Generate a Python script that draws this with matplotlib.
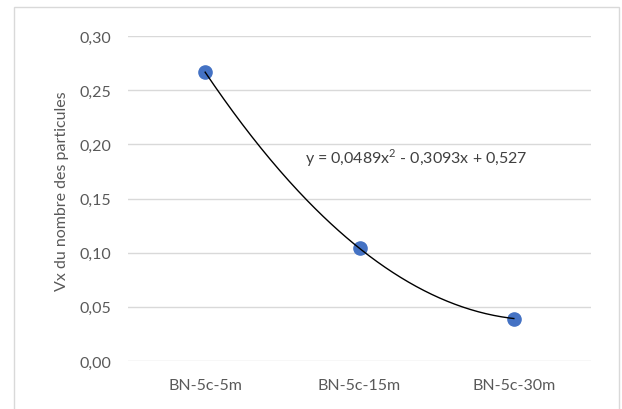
import numpy as np
import matplotlib.pyplot as plt
from matplotlib.patches import Rectangle

categories = ["BN-5c-5m", "BN-5c-15m", "BN-5c-30m"]
values = [0.2666, 0.1040, 0.0392]
yticks = [0.00, 0.05, 0.10, 0.15, 0.20, 0.25, 0.30]
equation = "y = 0,0489x$^2$ - 0,3093x + 0,527"

plt.rcParams['font.family'] = ['Lato', 'DejaVu Sans']
plt.rcParams['mathtext.fontset'] = 'custom'
plt.rcParams['mathtext.rm'] = 'Lato'

fig = plt.figure(figsize=(6.22, 4.10), dpi=100)
ax = fig.add_axes([128/622, 1 - 362/410, (591 - 128)/622, (362 - 37)/410])

x = np.arange(1, len(categories) + 1)

# polynomial trendline (order 2) through the points
coef = np.polyfit(x, values, 2)
xs = np.linspace(x[0], x[-1], 200)
ax.plot(xs, np.polyval(coef, xs), color="black", lw=1.0, zorder=3)
ax.plot(x, values, "o", color="#4472C4", markersize=9.5, zorder=2)

ax.set_xlim(0.5, len(categories) + 0.5)
ax.set_ylim(0, 0.30)
ax.set_yticks(yticks)
ax.set_yticklabels([f"{v:.2f}".replace(".", ",") for v in yticks])
ax.set_xticks(x)
ax.set_xticklabels(categories)
ax.tick_params(length=0, labelsize=11.5, labelcolor="#595959")
ax.tick_params(axis="y", pad=12)
ax.tick_params(axis="x", pad=12)
ax.grid(axis="y", color="#d9d9d9", lw=1.0)
ax.set_axisbelow(True)
for s in ax.spines.values():
    s.set_visible(False)

fig.text(62/622, 1 - 191/410, "Vx du nombre des particules", fontsize=11.5,
         color="#595959", rotation=90, ha="center", va="center")
ax.text(1.647, 0.188, equation, fontsize=11.5, color="#404040", va="center", ha="left")

fig.patches.append(Rectangle((14/622, -0.05), (619 - 14)/622, 1.05 - 8/410,
                             transform=fig.transFigure, fill=False,
                             edgecolor="#d9d9d9", lw=1.0))

fig.savefig("out.png", dpi=100)
